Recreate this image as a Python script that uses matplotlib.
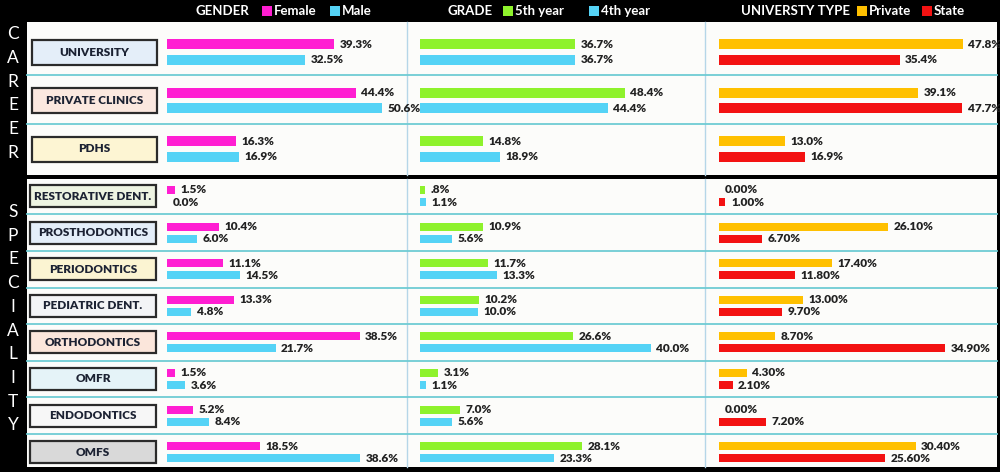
import matplotlib
matplotlib.use("Agg")
import matplotlib.pyplot as plt
from matplotlib.patches import Rectangle

plt.rcParams['font.family'] = ['Lato', 'DejaVu Sans']

# ---- data ----
career = ["UNIVERSITY", "PRIVATE CLINICS", "PDHS"]
specialty = ["RESTORATIVE DENT.", "PROSTHODONTICS", "PERIODONTICS", "PEDIATRIC DENT.",
             "ORTHODONTICS", "OMFR", "ENDODONTICS", "OMFS"]

career_female = [39.3, 44.4, 16.3]
career_male = [32.5, 50.6, 16.9]
career_5th = [36.7, 48.4, 14.8]
career_4th = [36.7, 44.4, 18.9]
career_private = [47.8, 39.1, 13.0]
career_state = [35.4, 47.7, 16.9]

spec_female = [1.5, 10.4, 11.1, 13.3, 38.5, 1.5, 5.2, 18.5]
spec_male = [0.0, 6.0, 14.5, 4.8, 21.7, 3.6, 8.4, 38.6]
spec_5th = [0.8, 10.9, 11.7, 10.2, 26.6, 3.1, 7.0, 28.1]
spec_4th = [1.1, 5.6, 13.3, 10.0, 40.0, 1.1, 5.6, 23.3]
spec_private = [0.0, 26.1, 17.4, 13.0, 8.7, 4.3, 0.0, 30.4]
spec_state = [1.0, 6.7, 11.8, 9.7, 34.9, 2.1, 7.2, 25.6]

career_box_colors = ["#E4EEF9", "#FBE8DF", "#FDF5D3"]
spec_box_colors = ["#EEF4E2", "#E4EEF9", "#FBF4D2", "#F3F4F6",
                   "#FBE6DB", "#E5F3F8", "#F7F7F7", "#D9D9D9"]

PINK = "#FF1ED2"
CYAN = "#55D3F6"
GREEN = "#8EF22C"
GOLD = "#FFC000"
RED = "#F31212"

W, H = 1000, 472
fig = plt.figure(figsize=(W / 100, H / 100), dpi=100, facecolor="black")

# background axes in pixel coordinates
bg = fig.add_axes([0, 0, 1, 1])
bg.set_xlim(0, W)
bg.set_ylim(H, 0)
bg.axis("off")

CAR_TOP, CAR_BOT = 22, 175
SPE_TOP, SPE_BOT = 179, 467
LEFT, RIGHT = 27, 997
COL_DIV = [407, 705]

# row layout (pixel centres of first row and spacing)
CAR_Y0, CAR_DY = 52, 48.5
SPE_Y0, SPE_DY = 196, 36.6

bg.add_patch(Rectangle((LEFT, CAR_TOP), RIGHT - LEFT, CAR_BOT - CAR_TOP, fc="#FCFCFA", ec="none"))
bg.add_patch(Rectangle((LEFT, SPE_TOP), RIGHT - LEFT, SPE_BOT - SPE_TOP, fc="#FCFCFA", ec="none"))

for x in COL_DIV:
    bg.plot([x, x], [CAR_TOP, CAR_BOT], color="#B5D6E8", lw=1.0)
    bg.plot([x, x], [SPE_TOP, SPE_BOT], color="#B5D6E8", lw=1.0)

for i in range(1, len(career)):
    y = CAR_Y0 + (i - 0.5) * CAR_DY - 1
    bg.plot([LEFT, RIGHT], [y, y], color="#6FCCD4", lw=1.3)
for i in range(1, len(specialty)):
    y = SPE_Y0 + (i - 0.5) * SPE_DY
    bg.plot([LEFT, RIGHT], [y, y], color="#6FCCD4", lw=1.3)

# category boxes
for i, (name, c) in enumerate(zip(career, career_box_colors)):
    yc = CAR_Y0 + i * CAR_DY
    bg.add_patch(Rectangle((32, yc - 12.5), 125, 25, fc=c, ec="#2B2B2B", lw=1.6))
    bg.text(94.5, yc, name, ha="center", va="center", fontsize=8.5,
            fontweight="heavy", color="#1C2233")
for i, (name, c) in enumerate(zip(specialty, spec_box_colors)):
    yc = SPE_Y0 + i * SPE_DY
    bg.add_patch(Rectangle((30, yc - 11), 126, 22, fc=c, ec="#2B2B2B", lw=1.6))
    bg.text(93, yc, name, ha="center", va="center", fontsize=8.5,
            fontweight="heavy", color="#1C2233")

# vertical section letters
for i, ch in enumerate("CAREER"):
    bg.text(13, 34 + i * 23.8, ch, ha="center", va="center", fontsize=12.5, color="white")
for i, ch in enumerate("SPECIALITY"):
    bg.text(13, 212 + i * 23.7, ch, ha="center", va="center", fontsize=12.5, color="white")

# header with legends
for x, title in [(195, "GENDER"), (447, "GRADE"), (741, "UNIVERSTY TYPE")]:
    bg.text(x, 11, title, ha="left", va="center", fontsize=9.5,
            fontweight="bold", color="white")
legend_items = [(262, PINK, "Female"), (330, CYAN, "Male"),
                (503, GREEN, "5th year"), (589, CYAN, "4th year"),
                (857, GOLD, "Private"), (922, RED, "State")]
for x, c, lab in legend_items:
    bg.add_patch(Rectangle((x, 6), 10, 10, fc=c, ec="none"))
    bg.text(x + 12, 11, lab, ha="left", va="center", fontsize=9.5,
            fontweight="bold", color="white")


def fmt1(v):
    return f"{v:.1f}%"


def fmt_grade(v):
    s = f"{v:.1f}%"
    return s[1:] if 0 < v < 1 else s


def fmt2(v):
    return f"{v:.2f}%"


def panel(x0, x1, y0, dy, scale, a, b, ca, cb, nrows, off, bh, fmt):
    top = y0 - dy / 2
    bot = top + nrows * dy
    ax = fig.add_axes([x0 / W, 1 - bot / H, (x1 - x0) / W, (bot - top) / H])
    ax.patch.set_alpha(0)
    ax.set_xlim(0, (x1 - x0) / scale)
    ax.set_ylim(nrows - 0.5, -0.5)
    ax.axis("off")
    ys = list(range(nrows))
    ya = [y - off for y in ys]
    yb = [y + off for y in ys]
    ax.barh(ya, a, height=bh, color=ca, edgecolor="none")
    ax.barh(yb, b, height=bh, color=cb, edgecolor="none")
    for vals, yy in ((a, ya), (b, yb)):
        for v, y in zip(vals, yy):
            ax.annotate(fmt(v), xy=(v, y), xytext=(4, 0), textcoords="offset points",
                        ha="left", va="center", fontsize=8.5, fontweight="heavy",
                        color="#222222")
    return ax


# career panels
panel(167, 407, CAR_Y0, CAR_DY, 4.25, career_female, career_male, PINK, CYAN, 3, 0.155, 0.206, fmt1)
panel(420, 705, CAR_Y0, CAR_DY, 4.23, career_5th, career_4th, GREEN, CYAN, 3, 0.155, 0.206, fmt1)
panel(719, 997, CAR_Y0, CAR_DY, 5.1, career_private, career_state, GOLD, RED, 3, 0.155, 0.206, fmt1)

# specialty panels
panel(167, 407, SPE_Y0, SPE_DY, 5.0, spec_female, spec_male, PINK, CYAN, 8, 0.164, 0.22, fmt1)
panel(420, 705, SPE_Y0, SPE_DY, 5.77, spec_5th, spec_4th, GREEN, CYAN, 8, 0.164, 0.22, fmt_grade)
panel(719, 997, SPE_Y0, SPE_DY, 6.47, spec_private, spec_state, GOLD, RED, 8, 0.164, 0.22, fmt2)

fig.savefig("out.png", dpi=100, facecolor="black")
